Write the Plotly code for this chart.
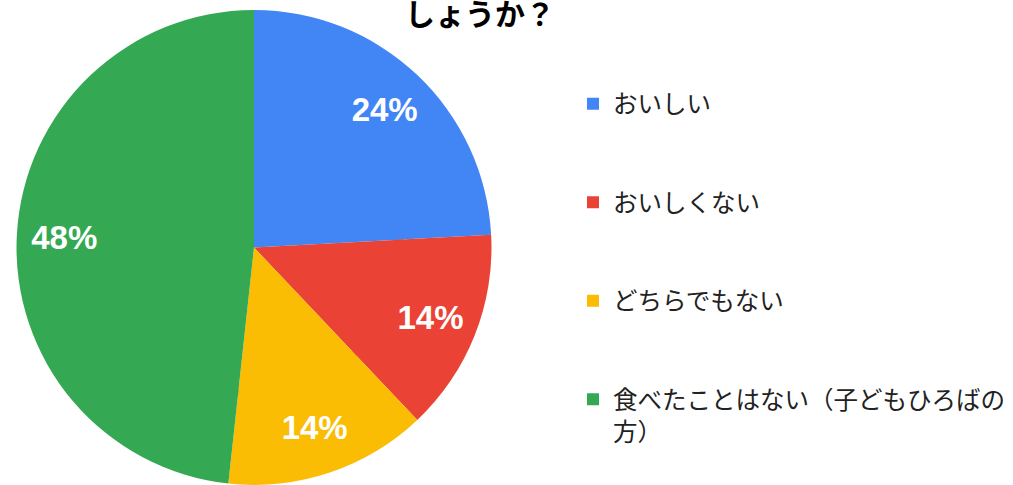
import plotly.graph_objects as go

labels = ['おいしい', 'おいしくない', 'どちらでもない', '食べたことはない（子どもひろばの<br>方）']
counts = [7, 4, 4, 14]
colors = ['#4285F4', '#EA4335', '#FBBC04', '#34A853']
title_text = 'しょうか？'

# pad the short legend entries with blank lines so the items spread out like the original
pad = '<br>\u00a0<br>\u00a0'
legend_labels = [lab + pad if '<br>' not in lab else lab for lab in labels]

W, H = 1013, 485
cx, cy, R = 254, 247.5, 237.5   # pie centre / radius in px (plot area starts at t=10)
r_in = 0.63 * R

fig = go.Figure()
# filled centre, drawn first so the labelled ring sits on top of it
fig.add_trace(go.Pie(
    labels=legend_labels, values=counts, sort=False, direction='clockwise', rotation=0,
    marker=dict(colors=colors, line=dict(width=0)),
    textinfo='none', showlegend=False,
    domain=dict(x=[(cx - r_in) / W, (cx + r_in) / W],
                y=[0.5 - r_in / 475, 0.5 + r_in / 475]),
    hovertemplate='%{label}: %{value} (%{percent})<extra></extra>',
))
fig.add_trace(go.Pie(
    labels=legend_labels, values=counts, sort=False, direction='clockwise', rotation=0,
    hole=0.6,
    marker=dict(colors=colors, line=dict(width=0)),
    texttemplate='%{percent:.0%}',
    textposition='inside',
    insidetextorientation='horizontal',
    textfont=dict(family='Liberation Sans, Arial', size=33, color='white', weight='bold'),
    domain=dict(x=[(cx - 240) / W, (cx + 240) / W], y=[0, 1]),
    hovertemplate='%{label}: %{value} (%{percent})<extra></extra>',
))

fig.update_layout(
    width=W, height=H,
    margin=dict(l=0, r=0, t=10, b=0),
    paper_bgcolor='white',
    plot_bgcolor='white',
    font=dict(family='Noto Sans CJK JP, Noto Sans', color='#222222'),
    title=dict(text=title_text, x=480 / W, xanchor='center', xref='paper',
               y=1 - 14 / H, yanchor='middle', yref='container',
               font=dict(size=30, color='#000000', weight='bold', family='Noto Sans CJK JP')),
    legend=dict(x=573 / W, xanchor='left', y=0.85, yanchor='top', valign='top',
                font=dict(size=24.5, color='#222222', family='Noto Sans CJK JP'),
                bgcolor='rgba(0,0,0,0)'),
    uniformtext=dict(minsize=20, mode='show'),
)

fig.write_html("out.html", config={'displayModeBar': False},
               post_script="document.body.style.margin='0';")
